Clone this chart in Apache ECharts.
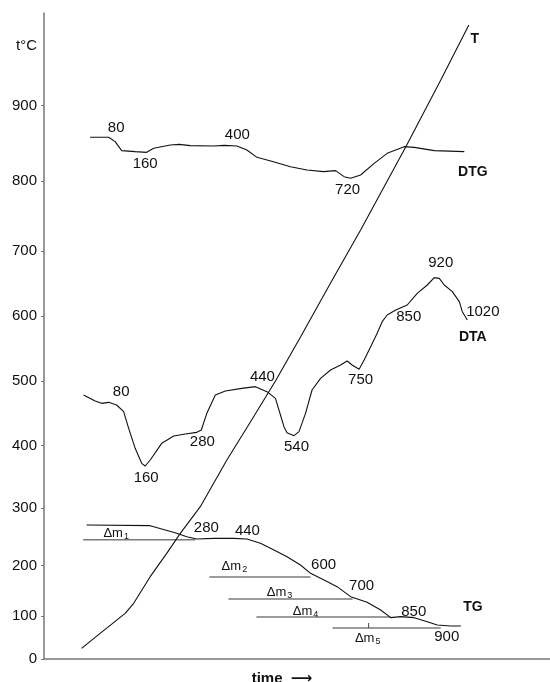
<!DOCTYPE html>
<html>
<head>
<meta charset="utf-8">
<title>DTA / DTG / TG thermogram</title>
<script src="https://cdn.jsdelivr.net/npm/echarts@6/dist/echarts.min.js"></script>
<style>
  html, body { margin: 0; padding: 0; background: #fff; }
  #chart { width: 550px; height: 682px; }
</style>
</head>
<body>
<div id="chart"></div>
<script>
// Temperature tick labels and the heights at which they sit on the vertical scale
const tickLabels = ['0', '100', '200', '300', '400', '500', '600', '700', '800', '900'];
const tickLevels = [0, 64, 140, 226, 320, 417, 514, 612, 717, 830];

// Curves: [time, height]
const tCurve = [
  [7.5, 16], [11.2, 38.5], [16.2, 68.5], [17.9, 83.5], [21.2, 123.5], [24.5, 158.5],
  [27.2, 188.5], [31.2, 228.5], [36.5, 298.5], [41.2, 355.5], [46.2, 417], [51.2, 483],
  [57.2, 564], [63.2, 643.5], [72.2, 768], [79.2, 868.5], [84.8, 951]
];

const dtgCurve = [
  [9.2, 782.6], [12.9, 782.6], [14.2, 776], [15.5, 762.5], [18.2, 761], [20.5, 760],
  [21.9, 766], [25.2, 771], [27.0, 772], [29.2, 770], [33.8, 769.5], [36.0, 770.5],
  [38.5, 769.5], [40.5, 763.5], [42.5, 752.5], [45.8, 746], [49.2, 738.5], [52.5, 733.5],
  [55.8, 731], [58.2, 732.5], [59.9, 723.5], [61.2, 721], [63.2, 726], [65.9, 743.5],
  [68.5, 758.5], [71.9, 768.5], [73.9, 767.5], [77.9, 762.5], [83.9, 761]
];

const dtaCurve = [
  [7.9, 396], [10.2, 387], [11.5, 383.5], [12.9, 385], [14.5, 381], [15.9, 371],
  [16.9, 346], [18.2, 316], [19.5, 293.5], [20.2, 289.5], [21.2, 298.5], [23.5, 323.5],
  [25.9, 334.5], [28.2, 337.5], [30.5, 340], [31.4, 343.5], [32.5, 368.5], [34.2, 396],
  [36.2, 402], [39.5, 406], [42.2, 408.5], [44.5, 401], [46.2, 391], [47.2, 366],
  [47.9, 348.5], [48.5, 339.5], [49.9, 335], [50.9, 341], [52.2, 368.5], [53.5, 403.5],
  [55.2, 421], [57.2, 433.5], [59.2, 441], [60.5, 447], [61.5, 441], [62.9, 434.5],
  [63.9, 448.5], [65.2, 468.5], [66.5, 488.5], [67.5, 506], [68.5, 516], [70.2, 523.5],
  [72.5, 531], [74.5, 548.5], [76.5, 561], [77.9, 572], [78.9, 571], [79.9, 561],
  [81.5, 551], [82.9, 536], [83.5, 521], [84.5, 508.5]
];

const tgCurve = [
  [8.5, 201], [21.2, 200], [23.5, 195], [26.5, 188.5], [28.5, 183.5], [30.5, 180],
  [33.9, 181], [37.9, 181], [40.5, 180], [43.2, 173.5], [45.9, 163.5], [48.5, 153.5],
  [51.2, 141], [53.2, 128.5], [55.9, 118.5], [58.5, 108.5], [61.2, 93.5], [64.5, 85],
  [67.2, 73.5], [69.2, 62], [71.2, 63.5], [73.9, 62], [76.5, 56], [78.5, 51],
  [81.2, 49.5], [83.2, 49.5]
];

// Mass-loss reference levels: [start time, end time, height]
const massLevels = [
  [7.8, 30.2, 179],
  [33.0, 53.2, 123],
  [36.8, 61.6, 90],
  [42.4, 69.2, 63],
  [57.6, 79.2, 46.5]
];
const massStepMark = [[64.8, 46.5], [64.8, 54]];

// Temperature annotations along the curves: [time, height, text]
const dtgNotes = [[14.4, 796.5, '80'], [20.2, 742.5, '160'], [38.6, 786, '400'], [60.6, 703.5, '720']];
const dtaNotes = [
  [15.4, 400.5, '80'], [20.4, 271.5, '160'], [31.6, 325.5, '280'], [43.6, 423, '440'],
  [50.4, 318, '540'], [63.2, 418.5, '750'], [72.8, 513, '850'], [79.2, 594, '920'],
  [87.6, 520.5, '1020']
];
const tgNotes = [
  [32.4, 196.5, '280'], [40.6, 192, '440'], [55.8, 141, '600'], [63.4, 109.5, '700'],
  [73.8, 70.5, '850'], [80.4, 33, '900']
];
const curveNames = [[86, 930, 'T'], [85.6, 730.5, 'DTG'], [85.6, 483, 'DTA'], [85.6, 78, 'TG']];
const massNotes = [[14.4, 189, '1'], [38, 139.5, '2'], [47, 100.5, '3'], [52.2, 72, '4'], [64.6, 31.5, '5']];

const INK = '#111111';
const FONT = '"Liberation Sans", Arial, "DejaVu Sans", sans-serif';

function curve(data) {
  return {
    type: 'line', data: data, showSymbol: false, symbol: 'none', smooth: false,
    silent: true, lineStyle: { color: INK, width: 1.1 }, z: 3
  };
}

function notes(data, bold) {
  return {
    type: 'scatter', symbolSize: 0, silent: true, z: 5,
    itemStyle: { opacity: 1 },
    data: data.map(d => ({ value: [d[0], d[1]], name: d[2] })),
    label: {
      show: true, position: 'inside', formatter: p => p.name,
      color: INK, textBorderWidth: 0, fontFamily: FONT,
      fontSize: bold ? 14 : 15, fontWeight: bold ? 'bold' : 'normal'
    }
  };
}

const series = [
  curve(tCurve), curve(dtgCurve), curve(dtaCurve), curve(tgCurve),
  notes(dtgNotes, false), notes(dtaNotes, false), notes(tgNotes, false), notes(curveNames, true)
];

massLevels.forEach(m => {
  series.push({
    type: 'line', data: [[m[0], m[2]], [m[1], m[2]]], symbol: 'none', silent: true,
    lineStyle: { color: '#7a7a7a', width: 1.5 }, z: 2
  });
});
series.push({
  type: 'line', data: massStepMark, symbol: 'none', silent: true,
  lineStyle: { color: '#444', width: 1 }, z: 2
});

series.push({
  type: 'scatter', symbolSize: 0, silent: true, z: 5,
  itemStyle: { opacity: 1 },
  data: massNotes.map(d => ({ value: [d[0], d[1]], name: d[2] })),
  label: {
    show: true, position: 'inside', textBorderWidth: 0,
    formatter: p => '{a|Δm}{b|' + p.name + '}',
    rich: {
      a: { fontFamily: FONT, fontSize: 13, color: INK, lineHeight: 16, textBorderWidth: 0 },
      b: { fontFamily: FONT, fontSize: 9, color: INK, padding: [7, 0, 0, 1], lineHeight: 16, textBorderWidth: 0 }
    }
  }
});

const chart = echarts.init(document.getElementById('chart'), null, { renderer: 'canvas' });
chart.setOption({
  backgroundColor: '#ffffff',
  animation: false,
  grid: { left: 44, right: 0, top: 13, bottom: 23, outerBoundsMode: 'none' },
  xAxis: {
    type: 'value', min: 0, max: 101,
    name: 'time  \u27F6', nameLocation: 'middle', nameGap: 12,
    nameTextStyle: { fontFamily: FONT, fontSize: 15, fontWeight: 'bold', color: INK, padding: [0, 30, 0, 0] },
    axisLine: { show: true, lineStyle: { color: '#777', width: 1.5 } },
    axisTick: { show: false }, axisLabel: { show: false }, splitLine: { show: false }
  },
  yAxis: {
    type: 'value', min: 0, max: 969,
    name: 't\u00B0C', nameLocation: 'end', nameGap: -33,
    nameTextStyle: { fontFamily: FONT, fontSize: 15, color: INK, align: 'right', verticalAlign: 'middle', padding: [0, 7, 0, 0] },
    axisLine: { show: true, lineStyle: { color: '#777', width: 1.5 } },
    axisTick: { show: true, length: 3, customValues: tickLevels, lineStyle: { color: '#777' } },
    axisLabel: {
      customValues: tickLevels, margin: 7,
      formatter: v => tickLabels[tickLevels.indexOf(v)] ?? '',
      fontFamily: FONT, fontSize: 15, color: INK
    },
    splitLine: { show: false }
  },
  series: series
});
</script>
</body>
</html>
